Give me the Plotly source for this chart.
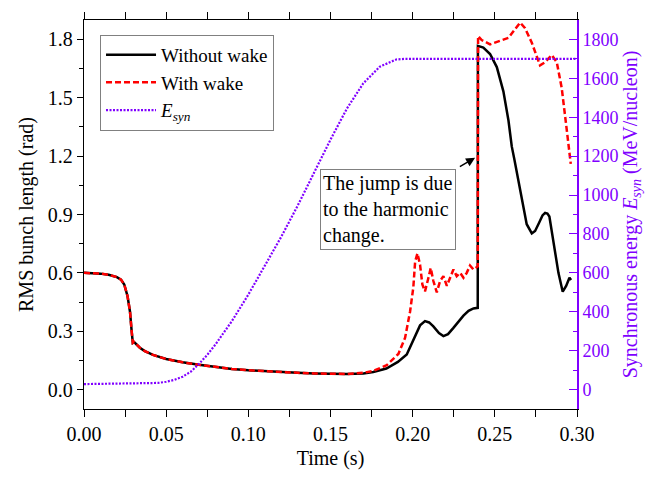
import plotly.graph_objects as go

# ---- data ----
t_without = [0.000, 0.005, 0.010, 0.015, 0.020, 0.0225, 0.0245, 0.0265, 0.028, 0.029, 0.0297, 0.0305,
             0.0315, 0.034, 0.037, 0.042, 0.050, 0.060, 0.070, 0.080, 0.090, 0.100, 0.110, 0.120,
             0.130, 0.140, 0.150, 0.160, 0.170, 0.176, 0.184, 0.191, 0.1964, 0.2004, 0.2045, 0.2075,
             0.2100, 0.2126, 0.2160, 0.2187, 0.2215, 0.2248, 0.2280, 0.2309, 0.2340, 0.2370, 0.2396,
             0.2397, 0.2430, 0.2471, 0.2512, 0.2552, 0.2583, 0.2603, 0.2619, 0.2634, 0.2664, 0.2694,
             0.2725, 0.2745, 0.2765, 0.2790, 0.2806, 0.2820, 0.2832, 0.2857, 0.2887, 0.2913, 0.2934,
             0.2954, 0.2964]
rms_without = [0.600, 0.599, 0.596, 0.590, 0.578, 0.565, 0.540, 0.480, 0.400, 0.300, 0.240, 0.244,
               0.236, 0.215, 0.198, 0.178, 0.157, 0.140, 0.127, 0.115, 0.106, 0.099, 0.094, 0.090,
               0.086, 0.083, 0.081, 0.080, 0.083, 0.090, 0.108, 0.142, 0.180, 0.250, 0.330, 0.352,
               0.345, 0.325, 0.290, 0.275, 0.285, 0.317, 0.350, 0.380, 0.405, 0.417, 0.420,
               1.767, 1.758, 1.725, 1.658, 1.533, 1.383, 1.250, 1.183, 1.117, 0.967, 0.850,
               0.803, 0.815, 0.850, 0.895, 0.908, 0.905, 0.890, 0.767, 0.600, 0.503, 0.533,
               0.575, 0.563]

t_with = [0.000, 0.005, 0.010, 0.015, 0.020, 0.0225, 0.0245, 0.0265, 0.028, 0.029, 0.0297, 0.0305,
          0.0315, 0.034, 0.037, 0.042, 0.050, 0.060, 0.070, 0.080, 0.090, 0.100, 0.110, 0.120,
          0.130, 0.140, 0.150, 0.160, 0.170, 0.176, 0.1842, 0.1913, 0.1954, 0.1984, 0.2004, 0.2015,
          0.2029, 0.2045, 0.2059, 0.2075, 0.2096, 0.2110, 0.2126, 0.2147, 0.2167, 0.2187, 0.2208,
          0.2228, 0.2248, 0.2268, 0.2289, 0.2309, 0.2329, 0.2349, 0.2370, 0.2396, 0.2398, 0.2420,
          0.2471, 0.2522, 0.2583, 0.2654, 0.2684, 0.2725, 0.2775, 0.2806, 0.2846, 0.2877, 0.2907,
          0.2938, 0.2962]
rms_with = [0.600, 0.599, 0.596, 0.590, 0.578, 0.565, 0.540, 0.480, 0.400, 0.300, 0.240, 0.244,
            0.236, 0.215, 0.198, 0.178, 0.157, 0.140, 0.127, 0.115, 0.106, 0.099, 0.094, 0.090,
            0.086, 0.083, 0.081, 0.080, 0.086, 0.096, 0.125, 0.183, 0.267, 0.400, 0.525, 0.658,
            0.700, 0.642, 0.540, 0.505, 0.575, 0.625, 0.558, 0.500, 0.558, 0.583, 0.533,
            0.575, 0.617, 0.583, 0.600, 0.575, 0.600, 0.638, 0.617, 0.633, 1.817, 1.797,
            1.775, 1.790, 1.808, 1.887, 1.858, 1.783, 1.667, 1.683, 1.720, 1.683, 1.550,
            1.333, 1.160]

t_esyn = [0.000, 0.040, 0.045, 0.050, 0.055, 0.060, 0.065, 0.070, 0.075, 0.080, 0.090, 0.100,
          0.110, 0.120, 0.130, 0.140, 0.150, 0.160, 0.170, 0.180, 0.190, 0.195, 0.300]
e_syn = [28, 30, 34, 40, 50, 66, 92, 132, 178, 232, 352, 488,
         635, 785, 945, 1115, 1285, 1445, 1575, 1660, 1697, 1700, 1700]

x_ticks = [0.00, 0.05, 0.10, 0.15, 0.20, 0.25, 0.30]
y_ticks = [0.0, 0.3, 0.6, 0.9, 1.2, 1.5, 1.8]
y2_ticks = [0, 200, 400, 600, 800, 1000, 1200, 1400, 1600, 1800]

PURPLE = "#8000ff"
FONT = "'Liberation Serif', 'Times New Roman', 'DejaVu Serif', serif"

fig = go.Figure()
fig.add_trace(go.Scatter(x=t_without, y=rms_without, mode="lines", name="Without wake",
                         line=dict(color="black", width=2.5)))
fig.add_trace(go.Scatter(x=t_with, y=rms_with, mode="lines", name="With wake",
                         line=dict(color="#ff0000", width=2.5, dash="6px,3px")))
fig.add_trace(go.Scatter(x=t_esyn, y=e_syn, mode="lines", name="<i>E</i><sub><i>syn</i></sub>",
                         yaxis="y2", line=dict(color=PURPLE, width=2.2, dash="2px,1.5px")))

fig.update_layout(
    width=654, height=477,
    margin=dict(l=84, r=77, t=13, b=64),
    plot_bgcolor="white", paper_bgcolor="white",
    font=dict(family=FONT, size=20, color="black"),
    showlegend=True,
    legend=dict(x=0.0325, y=0.962, xanchor="left", yanchor="top",
                bordercolor="#808080", borderwidth=1, bgcolor="white",
                font=dict(family=FONT, size=19), tracegroupgap=0, itemwidth=50),
    xaxis=dict(range=[0, 0.30], tickvals=x_ticks, tickformat=".2f",
               ticks="outside", ticklen=7, tickwidth=1.3, tickcolor="black",
               showline=True, linecolor="black", linewidth=1.3, mirror="allticks",
               showgrid=False, zeroline=False,
               tickfont=dict(family=FONT, size=20),
               minor=dict(dtick=0.025, tick0=0, ticks="outside", ticklen=4, tickcolor="black", tickwidth=1.3),
               title=dict(text="Time (s)", font=dict(family=FONT, size=20), standoff=6)),
    yaxis=dict(range=[-0.1, 1.9], tickvals=y_ticks, tickformat=".1f",
               ticks="outside", ticklen=6, tickwidth=1.3, tickcolor="black",
               showline=True, linecolor="black", linewidth=1.3,
               showgrid=False, zeroline=False,
               tickfont=dict(family=FONT, size=20),
               minor=dict(dtick=0.15, tick0=0, ticks="outside", ticklen=4, tickcolor="black", tickwidth=1.3),
               title=dict(text="RMS bunch length (rad)", font=dict(family=FONT, size=20), standoff=8)),
    yaxis2=dict(range=[-100, 1900], tickvals=y2_ticks, overlaying="y", side="right",
                ticks="inside", ticklen=8, tickwidth=1.3, tickcolor=PURPLE,
                showline=True, linecolor=PURPLE, linewidth=1.8,
                showgrid=False, zeroline=False,
                tickfont=dict(family=FONT, color=PURPLE, size=18),
                minor=dict(dtick=100, tick0=0, ticks="inside", ticklen=4, tickcolor=PURPLE, tickwidth=1.3),
                title=dict(text="Synchronous energy <i>E</i><sub><i>syn</i></sub> (MeV/nucleon)",
                           font=dict(family=FONT, color=PURPLE, size=20), standoff=4)),
)

fig.add_annotation(x=0.185, y=0.9265, xref="x", yref="y",
                   text="The jump is due<br>to the harmonic<br>change.",
                   showarrow=False, align="left", xanchor="center", yanchor="middle",
                   bordercolor="#808080", borderwidth=1, borderpad=2, bgcolor="white",
                   font=dict(family=FONT, size=20, color="black"))
fig.add_annotation(x=0.238, y=1.1915, xref="x", yref="y",
                   ax=0.2278, ay=1.1415, axref="x", ayref="y",
                   text="", showarrow=True, arrowhead=2, arrowsize=1.2, arrowwidth=1.5,
                   arrowcolor="black")

fig.write_html("out.html")
